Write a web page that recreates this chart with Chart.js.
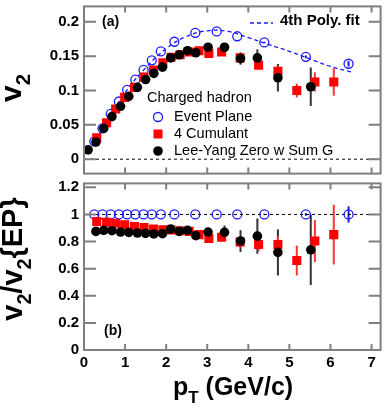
<!DOCTYPE html>
<html>
<head>
<meta charset="utf-8">
<script src="https://cdn.jsdelivr.net/npm/chart.js@4.4.0/dist/chart.umd.min.js"></script>
<style>
  html, body { margin: 0; padding: 0; background: #fff; }
  #wrap { position: relative; width: 387px; height: 408px; }
  #topChart { position: absolute; left: 0; top: 0; }
  #botChart { position: absolute; left: 0; top: 177px; }
</style>
</head>
<body>
<div id="wrap">
  <canvas id="topChart" width="387" height="180" style="width:387px;height:180px"></canvas>
  <canvas id="botChart" width="387" height="231" style="width:387px;height:231px"></canvas>
</div>
<script>
// ---- data ----
const xTicks = [0, 1, 2, 3, 4, 5, 6, 7];
const yTicksTop = [0, 0.05, 0.1, 0.15, 0.2];
const yLabelsTop = ['0', '0.05', '0.1', '0.15', '0.2'];
const yTicksBot = [0, 0.2, 0.4, 0.6, 0.8, 1, 1.2];
const yLabelsBot = ['0', '0.2', '0.4', '0.6', '0.8', '1', '1.2'];

// Event Plane
const ptEP = [0.25, 0.45, 0.65, 0.85, 1.05, 1.25, 1.45, 1.65, 1.87, 2.2, 2.71, 3.23, 3.73, 4.39, 5.4, 6.44];
const v2EP = [0.026, 0.045, 0.066, 0.084, 0.101, 0.116, 0.130, 0.144, 0.157, 0.171, 0.184, 0.186, 0.179, 0.170, 0.149, 0.139];
const errEP = [0, 0, 0, 0, 0, 0, 0, 0, 0, 0, 0, 0, 0, 0.001, 0.002, 0.004];
const ratioEP = [1, 1, 1, 1, 1, 1, 1, 1, 1, 1, 1, 1, 1, 1, 1, 1];
const errRatioEP = [0, 0, 0, 0, 0, 0, 0, 0, 0, 0, 0, 0, 0, 0.005, 0.01, 0.06];

// 4th order polynomial fit
const ptFit = [0.2, 0.5, 1, 1.5, 2, 2.5, 3, 3.5, 4, 4.5, 5, 5.5, 6, 6.5];
const v2Fit = [0.019, 0.049, 0.097, 0.133, 0.161, 0.179, 0.187, 0.186, 0.177, 0.167, 0.157, 0.146, 0.135, 0.127];

// 4 Cumulant
const ptC4 = [0.31, 0.55, 0.77, 0.99, 1.23, 1.46, 1.69, 1.92, 2.12, 2.34, 2.56, 2.80, 3.04, 3.35, 3.80, 4.25, 4.72, 5.18, 5.62, 6.08];
const v2C4 = [0.031, 0.053, 0.073, 0.090, 0.1046, 0.1195, 0.130, 0.1405, 0.1485, 0.152, 0.156, 0.158, 0.154, 0.156, 0.1475, 0.137, 0.128, 0.100, 0.1125, 0.1125];
const errC4 = [0, 0, 0, 0, 0, 0, 0, 0, 0, 0, 0, 0.001, 0.002, 0.003, 0.004, 0.005, 0.007, 0.01, 0.014, 0.02];
const ratioC4 = [0.948, 0.942, 0.935, 0.923, 0.911, 0.904, 0.892, 0.887, 0.885, 0.88, 0.875, 0.851, 0.822, 0.832, 0.796, 0.779, 0.779, 0.66, 0.804, 0.851];
const errRatioC4 = [0, 0, 0, 0, 0, 0, 0, 0, 0, 0, 0, 0.01, 0.02, 0.03, 0.04, 0.05, 0.06, 0.11, 0.155, 0.22];

// Lee-Yang Zero w Sum G
const ptLYZ = [0.1, 0.29, 0.48, 0.68, 0.89, 1.09, 1.30, 1.50, 1.70, 1.91, 2.11, 2.32, 2.52, 2.72, 3.02, 3.42, 3.81, 4.22, 4.72, 5.52];
const v2LYZ = [0.0136, 0.025, 0.045, 0.062, 0.077, 0.0915, 0.1046, 0.116, 0.125, 0.134, 0.1475, 0.152, 0.158, 0.155, 0.163, 0.163, 0.1466, 0.1475, 0.1186, 0.1055];
const errLYZ = [0, 0, 0, 0, 0, 0, 0, 0, 0, 0, 0, 0, 0, 0.002, 0.003, 0.006, 0.009, 0.0125, 0.02, 0.028];
const ptLYZRatio = [0.29, 0.48, 0.68, 0.89, 1.09, 1.30, 1.50, 1.70, 1.91, 2.11, 2.32, 2.52, 2.72, 3.02, 3.42, 3.81, 4.22, 4.72, 5.52];
const ratioLYZ = [0.875, 0.883, 0.88, 0.87, 0.868, 0.863, 0.86, 0.856, 0.858, 0.892, 0.875, 0.883, 0.844, 0.87, 0.868, 0.804, 0.84, 0.72, 0.739];
const errRatioLYZ = [0, 0, 0, 0, 0, 0, 0, 0, 0, 0, 0, 0, 0.01, 0.02, 0.05, 0.08, 0.13, 0.17, 0.26];

const X_MIN = 0, X_MAX = 7.22;

const FONT = '"Liberation Sans", Arial, Helvetica, sans-serif';
const FRAME = '#7f7f7f';
const BLUE = '#1a1aff';
const RED = '#ff0000';

const pts = (xs, ys) => xs.map((x, i) => ({ x: x, y: ys[i] }));

// text with subscripts: parts = [[text, isSub], ...]
function richText(ctx, parts, x, y, size, align) {
  let w = 0;
  parts.forEach(([t, sub]) => {
    ctx.font = 'bold ' + (sub ? size * 0.68 : size) + 'px ' + FONT;
    w += ctx.measureText(t).width;
  });
  let cx = align === 'center' ? x - w / 2 : x;
  parts.forEach(([t, sub]) => {
    ctx.font = 'bold ' + (sub ? size * 0.68 : size) + 'px ' + FONT;
    ctx.fillText(t, cx, sub ? y + size * 0.3 : y);
    cx += ctx.measureText(t).width;
  });
}

const panelDecor = {
  id: 'panelDecor',
  beforeDatasetsDraw(chart) {
    const { ctx, scales: { x, y } } = chart;
    ctx.save();
    chart.data.datasets.forEach(ds => {
      if (!ds.errors) return;
      ctx.strokeStyle = ds.errorColor;
      ctx.lineWidth = 2;
      ds.data.forEach((p, i) => {
        const e = ds.errors[i];
        if (!e) return;
        const px = x.getPixelForValue(p.x);
        ctx.beginPath();
        ctx.moveTo(px, y.getPixelForValue(p.y + e));
        ctx.lineTo(px, y.getPixelForValue(p.y - e));
        ctx.stroke();
      });
    });
    ctx.restore();
  },
  afterDraw(chart, args, opts) {
    const { ctx, chartArea: a, scales: { x, y } } = chart;
    ctx.save();
    ctx.strokeStyle = FRAME;
    ctx.lineWidth = 2;
    ctx.strokeRect(a.left, a.top, a.right - a.left, a.bottom - a.top);
    ctx.beginPath();
    xTicks.forEach(t => {
      const px = x.getPixelForValue(t);
      ctx.moveTo(px, a.bottom); ctx.lineTo(px, a.bottom - 6);
      ctx.moveTo(px, a.top); ctx.lineTo(px, a.top + 6);
    });
    opts.yTicks.forEach(t => {
      const py = y.getPixelForValue(t);
      ctx.moveTo(a.left, py); ctx.lineTo(a.left + 12, py);
      ctx.moveTo(a.right, py); ctx.lineTo(a.right - 12, py);
    });
    ctx.stroke();
    ctx.fillStyle = '#000';
    ctx.textBaseline = 'alphabetic';
    if (opts.text) opts.text(ctx);
    ctx.restore();
  }
};

function baseOptions(yMin, yMax, yTicks, yLabels, padding, xHeight, showXLabels) {
  return {
    responsive: false,
    animation: false,
    layout: { padding: padding },
    plugins: { legend: { display: false }, tooltip: { enabled: false } },
    scales: {
      x: {
        type: 'linear', min: X_MIN, max: X_MAX,
        grid: { display: false, drawTicks: false },
        border: { display: false },
        afterBuildTicks: s => { s.ticks = xTicks.map(v => ({ value: v })); },
        afterFit: s => { s.height = xHeight; s.paddingLeft = 0; s.paddingRight = 0; },
        ticks: {
          display: showXLabels, padding: 4, color: '#000',
          font: { family: FONT, size: 15, weight: 'bold' },
          callback: v => String(v)
        }
      },
      y: {
        type: 'linear', min: yMin, max: yMax,
        grid: { display: false, drawTicks: false },
        border: { display: false },
        afterBuildTicks: s => { s.ticks = yTicks.map(v => ({ value: v })); },
        afterFit: s => { s.width = 84; s.paddingTop = 0; s.paddingBottom = 0; },
        ticks: {
          padding: 5, color: '#000',
          font: { family: FONT, size: 15, weight: 'bold' },
          callback: v => yLabels[yTicks.indexOf(v)]
        }
      }
    }
  };
}

// ---- top panel: v2 vs pT ----
const topOpts = baseOptions(-0.021, 0.2225, yTicksTop, yLabelsTop, { top: 4, right: 4, left: 0, bottom: 3 }, 0, false);
topOpts.plugins.panelDecor = {
  yTicks: yTicksTop,
  text(ctx) {
    ctx.save();
    ctx.translate(21, 88);
    ctx.rotate(-Math.PI / 2);
    richText(ctx, [['v', false], ['2', true]], 0, 0, 30, 'center');
    ctx.restore();

    ctx.textBaseline = 'middle';
    ctx.font = 'bold 14px ' + FONT;
    ctx.fillText('(a)', 102, 22);
    ctx.font = 'bold 15px ' + FONT;
    ctx.fillText('4th Poly. fit', 280, 21);
    ctx.strokeStyle = BLUE; ctx.lineWidth = 1.3; ctx.setLineDash([4, 3]);
    ctx.beginPath(); ctx.moveTo(250, 23); ctx.lineTo(273, 23); ctx.stroke();
    ctx.setLineDash([]);

    ctx.font = '14.5px ' + FONT;
    ctx.fillText('Charged hadron', 147, 98);
    ctx.fillText('Event Plane', 174, 117);
    ctx.fillText('4 Cumulant', 174, 134);
    ctx.fillText('Lee-Yang Zero w Sum G', 174, 151);
    ctx.strokeStyle = BLUE; ctx.lineWidth = 1.3;
    ctx.beginPath(); ctx.arc(158, 117, 4.5, 0, Math.PI * 2); ctx.stroke();
    ctx.fillStyle = RED; ctx.fillRect(153.5, 129.5, 9, 9);
    ctx.fillStyle = '#000';
    ctx.beginPath(); ctx.arc(158, 151, 4.8, 0, Math.PI * 2); ctx.fill();
  }
};

new Chart(document.getElementById('topChart'), {
  type: 'scatter',
  data: {
    datasets: [
      { data: pts(ptLYZ, v2LYZ), errors: errLYZ, errorColor: '#333', pointStyle: 'circle', pointRadius: 4.8,
        backgroundColor: '#000', borderColor: '#000', borderWidth: 0, order: 0 },
      { data: pts(ptC4, v2C4), errors: errC4, errorColor: '#ff3333', pointStyle: 'rect', pointRadius: 6.4,
        backgroundColor: RED, borderColor: RED, borderWidth: 0, order: 1 },
      { data: pts(ptEP, v2EP), errors: errEP, errorColor: BLUE, pointStyle: 'circle', pointRadius: 4.5,
        backgroundColor: 'rgba(0,0,0,0)', borderColor: BLUE, borderWidth: 1.3, order: 2 },
      { data: pts(ptFit, v2Fit), showLine: true, tension: 0.4, pointRadius: 0, borderColor: BLUE,
        borderWidth: 1.3, borderDash: [4, 3], order: 3 },
      { data: [{ x: X_MIN, y: 0 }, { x: X_MAX, y: 0 }], showLine: true, pointRadius: 0, borderColor: '#000',
        borderWidth: 1, borderDash: [3, 3], order: 4 }
    ]
  },
  options: topOpts,
  plugins: [panelDecor]
});

// ---- bottom panel: v2/v2{EP} vs pT ----
const botOpts = baseOptions(0, 1.229, yTicksBot, yLabelsBot, { top: 2, right: 4, left: 0, bottom: 0 }, 58, true);
botOpts.plugins.panelDecor = {
  yTicks: yTicksBot,
  text(ctx) {
    ctx.save();
    ctx.translate(22, 82);
    ctx.rotate(-Math.PI / 2);
    richText(ctx, [['v', false], ['2', true], ['/v', false], ['2', true], ['{EP}', false]], 0, 0, 29, 'center');
    ctx.restore();

    richText(ctx, [['p', false], ['T', true], [' (GeV/c)', false]], 173, 218, 25, 'left');

    ctx.textBaseline = 'middle';
    ctx.font = 'bold 14px ' + FONT;
    ctx.fillText('(b)', 104, 154);
  }
};

new Chart(document.getElementById('botChart'), {
  type: 'scatter',
  data: {
    datasets: [
      { data: pts(ptLYZRatio, ratioLYZ), errors: errRatioLYZ, errorColor: '#333', pointStyle: 'circle', pointRadius: 4.8,
        backgroundColor: '#000', borderColor: '#000', borderWidth: 0, order: 0 },
      { data: pts(ptC4, ratioC4), errors: errRatioC4, errorColor: '#ff3333', pointStyle: 'rect', pointRadius: 6.4,
        backgroundColor: RED, borderColor: RED, borderWidth: 0, order: 1 },
      { data: pts(ptEP, ratioEP), errors: errRatioEP, errorColor: BLUE, pointStyle: 'circle', pointRadius: 4.5,
        backgroundColor: 'rgba(0,0,0,0)', borderColor: BLUE, borderWidth: 1.3, order: 2 },
      { data: [{ x: X_MIN, y: 1 }, { x: X_MAX, y: 1 }], showLine: true, pointRadius: 0, borderColor: '#000',
        borderWidth: 1, borderDash: [3, 3], order: 4 }
    ]
  },
  options: botOpts,
  plugins: [panelDecor]
});
</script>
</body>
</html>
